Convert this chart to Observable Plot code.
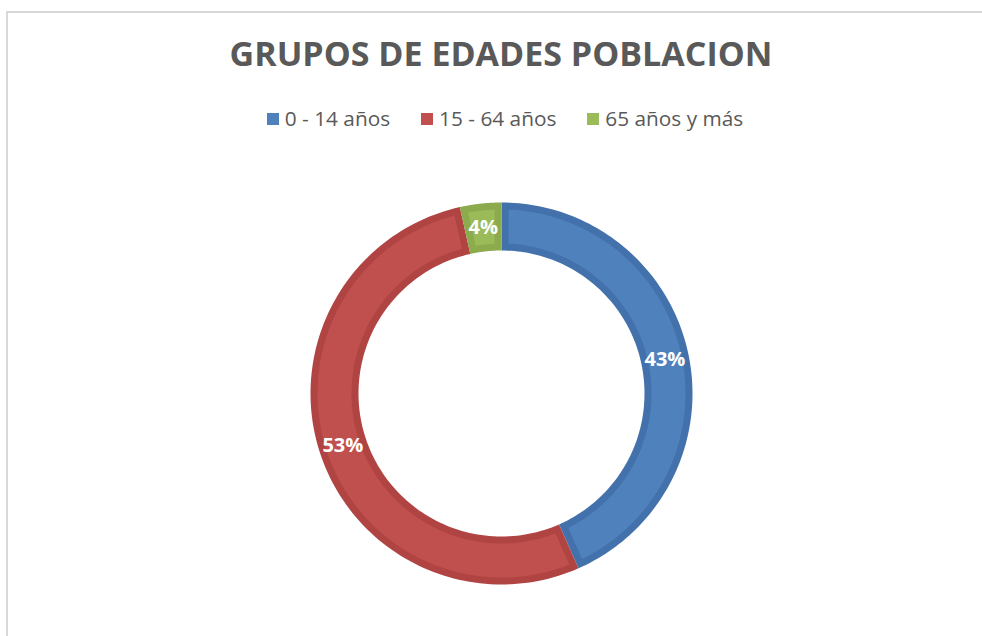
<!DOCTYPE html>
<html>
<head>
<meta charset="utf-8">
<script src="https://cdn.jsdelivr.net/npm/d3@7"></script>
<script src="https://cdn.jsdelivr.net/npm/@observablehq/plot@0.6"></script>
<style>
  html, body { margin: 0; padding: 0; background: #fff; overflow: hidden; }
  #wrap { position: relative; width: 982px; height: 636px; overflow: hidden; font-family: "Open Sans", sans-serif; }
  #frame { position: absolute; left: 6px; top: 11px; width: 1100px; height: 800px; border: 2px solid #d9d9d9; box-sizing: border-box; }
  #title { position: absolute; left: 0; width: 1002px; top: 36px; line-height: 34px; text-align: center; font-size: 34px; font-weight: 700; color: #595959; white-space: nowrap; }
  #legend { position: absolute; left: 0; width: 1010px; top: 108px; display: flex; justify-content: center; gap: 31px; font-size: 20.8px; line-height: 21px; color: #595959; }
  .item { display: flex; align-items: center; white-space: nowrap; }
  .sw { width: 12px; height: 12px; margin-right: 6px; }
  #chart { position: absolute; left: 0; top: 0; }
</style>
</head>
<body>
<div id="wrap">
  <div id="frame"></div>
  <div id="title"></div>
  <div id="legend"></div>
  <div id="chart"></div>
</div>
<script>
const titleText = "GRUPOS DE EDADES POBLACION";
const categories = ["0 - 14 años", "15 - 64 años", "65 años y más"];
const values = [43.4, 53.1, 3.5];
const labels = ["43%", "53%", "4%"];
const fillColors = ["#4f81bd", "#c0504d", "#9bbb59"];
const edgeColors = ["#4371ab", "#b04442", "#8cab4d"];

document.getElementById("title").textContent = titleText;
const legend = document.getElementById("legend");
categories.forEach((c, i) => {
  const it = document.createElement("div");
  it.className = "item";
  const sw = document.createElement("div");
  sw.className = "sw";
  sw.style.background = fillColors[i];
  const t = document.createElement("span");
  t.textContent = c;
  it.appendChild(sw); it.appendChild(t);
  legend.appendChild(it);
});

const innerRatio = 143 / 191;
const border = 7 / 191;
const arcs = d3.pie().sort(null).value(d => d)(values);

function slicePoly(a0, a1, r0, r1, inset, key, color) {
  const pts = [];
  const ro = r1 - inset, ri = r0 + inset;
  const ao0 = a0 + inset / ro, ao1 = a1 - inset / ro;
  const ai0 = a0 + inset / ri, ai1 = a1 - inset / ri;
  const N = 120;
  for (let k = 0; k <= N; k++) {
    const a = ao0 + (ao1 - ao0) * k / N;
    pts.push({x: ro * Math.sin(a), y: -ro * Math.cos(a), k: key, c: color});
  }
  for (let k = N; k >= 0; k--) {
    const a = ai0 + (ai1 - ai0) * k / N;
    pts.push({x: ri * Math.sin(a), y: -ri * Math.cos(a), k: key, c: color});
  }
  return pts;
}

const outerPts = [], innerPts = [];
arcs.forEach((a, i) => {
  outerPts.push(...slicePoly(a.startAngle, a.endAngle, innerRatio, 1, 0, "o" + i, edgeColors[i]));
  innerPts.push(...slicePoly(a.startAngle, a.endAngle, innerRatio, 1, border, "i" + i, fillColors[i]));
});

const midR = (1 + innerRatio) / 2;
const labelData = arcs.map((a, i) => {
  const m = (a.startAngle + a.endAngle) / 2;
  return {x: midR * Math.sin(m), y: -midR * Math.cos(m), t: labels[i]};
});

const plot = Plot.plot({
  width: 982,
  height: 636,
  margin: 0,
  x: {domain: [-1, 1], range: [310, 692], axis: null},
  y: {domain: [-1, 1], range: [202, 584], axis: null},
  color: {type: "identity"},
  style: {background: "transparent", overflow: "visible"},
  marks: [
    Plot.line(outerPts, {x: "x", y: "y", z: "k", fill: "c", stroke: "none", curve: "linear"}),
    Plot.line(innerPts, {x: "x", y: "y", z: "k", fill: "c", stroke: "none", curve: "linear"}),
    Plot.text(labelData, {x: "x", y: "y", text: "t", fill: "white", fontSize: 20, fontWeight: "bold", fontFamily: "Open Sans", textAnchor: "middle"})
  ]
});
document.getElementById("chart").appendChild(plot);
</script>
</body>
</html>
